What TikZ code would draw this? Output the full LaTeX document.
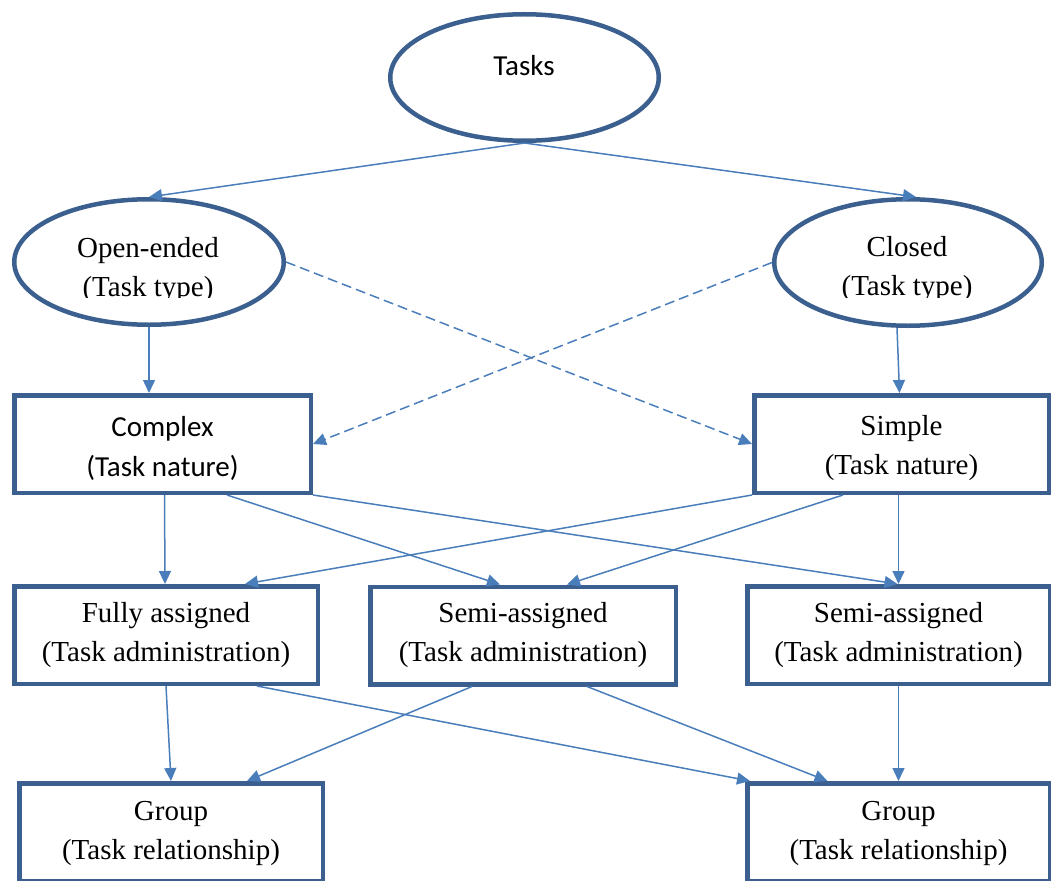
\documentclass[tikz,border=0pt]{standalone}
\usepackage{fontspec}
\setmainfont{Liberation Serif}
\newfontfamily\calibri{Carlito}
\usetikzlibrary{arrows.meta,shapes.geometric,calc}

\definecolor{frame}{HTML}{3B5F8E}
\definecolor{link}{HTML}{4A7EBB}

\tikzset{
  txt/.style={font=\fontsize{29}{39}\selectfont, align=center, inner sep=0pt},
  oval/.style={ellipse, draw=frame, line width=4.5pt, fill=white, inner sep=0pt},
  stepbox/.style={rectangle, draw=frame, line width=4.5pt, fill=white,
                  minimum height=97.5pt, txt},
  conn/.style={draw=link, line width=1.5pt, -{Triangle[length=13pt,width=12pt]}},
  dconn/.style={conn, dash pattern=on 10pt off 5pt}
}
% strut that lowers the first text line inside a box
\newcommand{\lowerline}[1]{\rule{0pt}{#1}}

\begin{document}
\begin{tikzpicture}[x=1pt,y=-1pt]
\clip (0,0) rectangle (1051,880);

% ellipses (task and task type)
\node[oval, minimum width=268.5pt, minimum height=126.5pt] (tasks) at (524.5,77.5) {};
\node[oval, minimum width=269.5pt, minimum height=125.5pt] (oe) at (149,262) {};
\node[oval, minimum width=267.5pt, minimum height=126.5pt] (cl) at (908,262.5) {};

\node[txt, anchor=base, font=\calibri\fontsize{29}{39}\selectfont] (tasksT) at (524,76) {Tasks};
\begin{scope}
  \clip (0,0) rectangle (1051,297.5);
  \node[txt] (oeT) at (148,270) {Open-ended\\(Task type)};
  \node[txt] (clT) at (907,269.5) {Closed\\(Task type)};
\end{scope}

% task nature
\node[stepbox, minimum width=296.5pt, font=\calibri\fontsize{29}{40}\selectfont] (cx) at (162.5,444) {\lowerline{29pt}Complex\\(Task nature)};
\node[stepbox, minimum width=294.5pt] (sp) at (901.5,444) {\lowerline{29pt}Simple\\(Task nature)};

% task administration
\node[stepbox, minimum width=303.5pt] (fl) at (166,635) {Fully assigned\\(Task administration)};
\node[stepbox, minimum width=305.5pt] (sm) at (523,635.5) {Semi-assigned\\(Task administration)};
\node[stepbox, minimum width=302.5pt] (sr) at (898.5,635) {Semi-assigned\\(Task administration)};

% task relationship
\node[stepbox, minimum width=303.5pt] (gl) at (171,832) {\lowerline{23pt}Group\\(Task relationship)};
\node[stepbox, minimum width=302.5pt] (gr) at (898.5,832) {\lowerline{23pt}Group\\(Task relationship)};

% connectors
\draw[conn] (tasks.south) -- (oe.north);
\draw[conn] (tasks.south) -- ($(cl.north)+(8,0)$);

\draw[conn] (oe.south) -- (oe.south |- cx.north);
\draw[conn] ($(cl.south)+(-11,0)$) -- ($(sp.north)+(-2,0)$);

\draw[dconn] (oe.east) -- (sp.west);
\draw[dconn] (cl.west) -- (cx.east);

\draw[conn] ($(cx.south)+(2,0)$) -- ($(fl.north)+(-1,0)$);
\draw[conn] ($(cx.south west)+(215,0)$) -- ($(sm.north)+(-23,0)$);
\draw[conn] (cx.south east) -- ($(sr.north)+(-1,0)$);

\draw[conn] (sp.south west) -- ($(fl.north)+(79,0)$);
\draw[conn] ($(sp.south west)+(91,0)$) -- ($(sm.north)+(44,0)$);
\draw[conn] (sp.south -| sr.north) -- (sr.north);

\draw[conn] (fl.south) -- (gl.north);
\draw[conn] ($(fl.south)+(91,0)$) -- ($(gr.north west)+(5,0)$);
\draw[conn] ($(sm.south)+(-51,0)$) -- ($(gl.north)+(76,0)$);
\draw[conn] ($(sm.south)+(64,0)$) -- ($(gr.north)+(-71,0)$);
\draw[conn] (sr.south) -- (gr.north);
\end{tikzpicture}
\end{document}
